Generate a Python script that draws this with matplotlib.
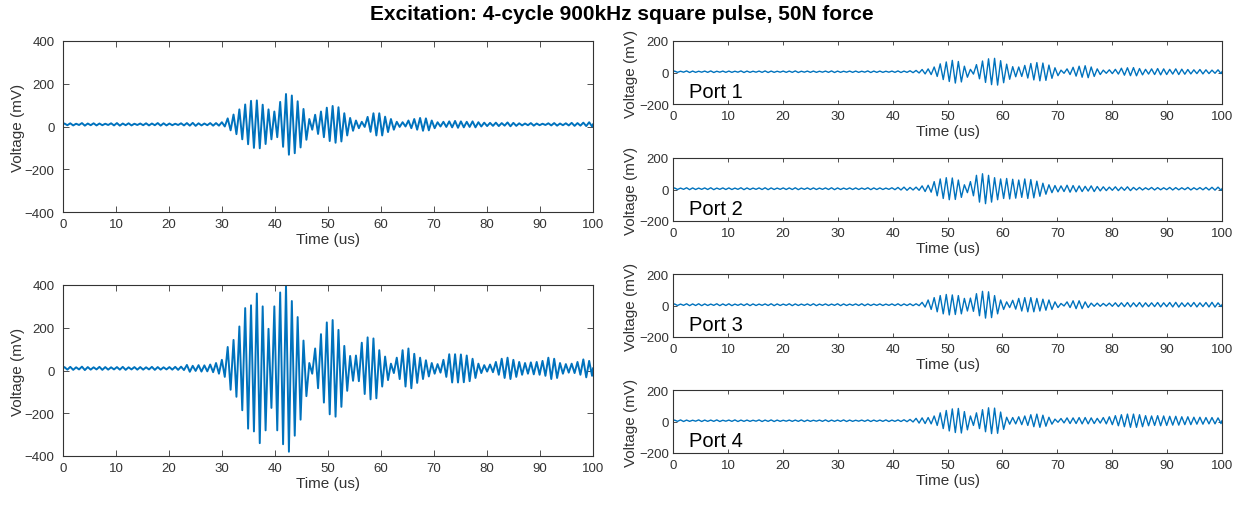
import numpy as np
import matplotlib
matplotlib.use('Agg')
import matplotlib.pyplot as plt

plt.rcParams['font.family'] = ['Liberation Sans', 'DejaVu Sans']

# one cycle of the 900 kHz burst, in us
period = 1.1

# peak amplitude (mV) of each cycle, cycle k sits at 1.1*k us
left_top_amps = [4, 5, 3, 6, 4, 5, 4, 3, 5, 6, 4, 5, 3, 4, 5, 4, 6, 5, 4, 3, 5, 6, 7, 5, 4, 6,
                 6, 10, 28, 46, 70, 93, 110, 112, 92, 70, 60, 105, 142, 135, 108, 72,
                 25, 45, 60, 78, 86, 80, 52, 30, 18, 12, 35, 52, 52, 36, 25, 12,
                 10, 18, 25, 30, 28, 18, 10, 12, 14, 16, 14, 12, 14, 10, 8,
                 7, 8, 6, 9, 7, 5, 4, 6, 4, 3, 5, 6, 4, 5, 7, 6, 8, 10]
left_bottom_amps = [6, 7, 5, 8, 6, 5, 7, 6, 5, 6, 7, 5, 6, 6, 5, 7, 6, 5, 6, 7,
                    8, 16, 12, 15, 14, 18, 25, 40, 100, 133, 196, 282, 295, 350, 290, 185,
                    290, 355, 390, 315, 240, 130, 25, 93, 160, 215, 226, 180, 105, 58, 60, 120,
                    145, 140, 85, 55, 22, 50, 85, 93, 68, 50, 38, 25, 20, 40, 66, 66,
                    65, 60, 45, 22, 15, 18, 30, 45, 50, 40, 30, 25, 28, 30, 35, 50,
                    45, 25, 20, 22, 30, 42, 35]
port1_amps = [4, 3, 5, 4, 3, 4, 5, 3, 4, 4, 3, 5, 4, 3, 4, 5, 4, 3, 4, 4,
              5, 3, 4, 4, 3, 4, 5, 4, 3, 4, 4, 3, 5, 4, 4, 3, 4, 5, 4, 6,
              8, 14, 18, 30, 50, 62, 72, 65, 35, 15, 45, 68, 82, 85, 70, 48,
              32, 30, 40, 52, 58, 55, 42, 25, 10, 18, 28, 35, 38, 30, 18, 10,
              12, 15, 22, 25, 26, 20, 15, 18, 20, 18, 15, 18, 16, 14, 12, 14, 12, 10, 12]
port2_amps = [5, 4, 6, 5, 4, 5, 6, 4, 5, 5, 4, 6, 5, 4, 5, 6, 5, 4, 5, 5,
              6, 4, 5, 5, 4, 5, 6, 5, 4, 5, 5, 4, 6, 5, 5, 4, 6, 8, 10, 8,
              10, 18, 22, 45, 62, 70, 68, 55, 25, 45, 85, 95, 85, 70, 62, 65,
              60, 55, 62, 58, 48, 35, 25, 20, 18, 22, 20, 18, 15, 18, 14, 12,
              10, 12, 10, 12, 8, 8, 6, 8, 7, 6, 8, 7, 6, 8, 6, 7, 8, 9, 10]
port3_amps = [5, 4, 6, 5, 6, 5, 4, 6, 5, 6, 4, 5, 6, 5, 4, 5, 6, 5, 4, 6,
              5, 4, 5, 6, 4, 5, 4, 6, 5, 4, 5, 6, 5, 4, 5, 4, 5, 6, 5, 6,
              6, 15, 30, 45, 58, 65, 62, 58, 40, 42, 70, 85, 82, 58, 30, 18,
              28, 40, 45, 45, 40, 35, 30, 18, 8, 18, 25, 25, 18, 10, 10, 8,
              10, 12, 12, 14, 12, 14, 12, 12, 14, 12, 14, 15, 12, 12, 14, 12, 14, 15, 12]
port4_amps = [4, 5, 4, 3, 5, 4, 4, 5, 3, 4, 5, 4, 4, 3, 5, 4, 5, 4, 3, 4,
              4, 5, 4, 3, 4, 5, 4, 4, 5, 4, 3, 4, 5, 4, 4, 5, 4, 5, 6, 8,
              15, 18, 20, 30, 50, 65, 75, 78, 58, 30, 50, 70, 82, 80, 55, 22,
              20, 25, 30, 38, 42, 35, 22, 10, 14, 18, 18, 20, 20, 18, 15, 20,
              25, 32, 38, 42, 42, 38, 32, 30, 32, 30, 28, 28, 25, 25, 22, 22, 20, 20, 18]

left_offset = 10   # mV, baseline sits a little above zero
port_offset = 5
port_names = ['Port 1', 'Port 2', 'Port 3', 'Port 4']
title = 'Excitation: 4-cycle 900kHz square pulse, 50N force'

blue = '#0072BD'
grey = '#333333'


def trace(amps, offset):
    # zig-zag through the positive and negative peak of every cycle
    a = np.asarray(amps, dtype=float)
    k = np.arange(len(a))
    t = np.empty(2 * len(a) + 2)
    v = np.empty(2 * len(a) + 2)
    t[0], v[0] = 0, offset
    t[1:-1:2] = k * period + period / 4
    v[1:-1:2] = offset + a
    t[2:-1:2] = k * period + 3 * period / 4
    v[2:-1:2] = offset - a
    t[-1], v[-1] = 100, offset
    return t, v


def style(ax, lim, yticks, pad, ylabelpad, ticklen):
    ax.set_xlim(0, 100)
    ax.set_ylim(-lim, lim)
    ax.set_xticks(range(0, 101, 10))
    ax.set_yticks(yticks)
    ax.tick_params(direction='in', top=True, right=True, length=ticklen, width=0.6,
                   labelsize=9.5, colors=grey, pad=pad)
    ax.tick_params(axis='x', pad=4)
    for s in ax.spines.values():
        s.set_linewidth(0.8)
        s.set_color(grey)
    ax.set_xlabel('Time (us)', fontsize=11, color=grey, labelpad=2)
    ax.set_ylabel('Voltage (mV)', fontsize=11, color=grey, labelpad=ylabelpad)


W, H = 1244, 506
fig = plt.figure(figsize=(W / 100, H / 100), dpi=100)

# left column: two big panels
for top, amps in [(42, left_top_amps), (286, left_bottom_amps)]:
    ax = fig.add_axes([63 / W, 1 - (top + 171) / H, 530 / W, 171 / H])
    t, v = trace(amps, left_offset)
    ax.plot(t, v, color=blue, linewidth=1.4)
    style(ax, 400, [-400, -200, 0, 200, 400], 6, 0, 4)

# right column: the four ports
port_amps = [port1_amps, port2_amps, port3_amps, port4_amps]
for top, name, amps in zip([42, 159, 275, 391], port_names, port_amps):
    ax = fig.add_axes([673 / W, 1 - (top + 63) / H, 549 / W, 63 / H])
    t, v = trace(amps, port_offset)
    ax.plot(t, v, color=blue, linewidth=1.0)
    style(ax, 200, [-200, 0, 200], 3, 1, 3)
    ax.text(3, -158, name, fontsize=14.5, color='black', va='baseline', zorder=5)

fig.text(0.5, 1 - 15 / H, title, ha='center', va='center', fontsize=15,
         fontweight='bold')

plt.savefig('out.png', dpi=100)
